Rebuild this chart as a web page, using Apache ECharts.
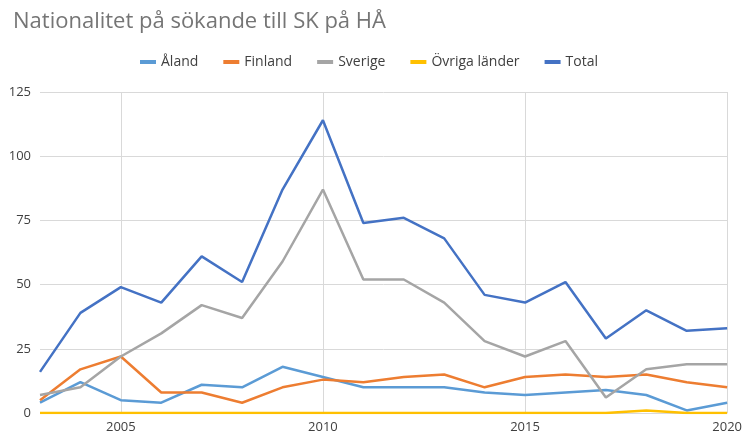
<!DOCTYPE html>
<html>
<head>
<meta charset="utf-8">
<script src="https://cdn.jsdelivr.net/npm/echarts@6/dist/echarts.min.js"></script>
<style>
  html, body { margin: 0; padding: 0; background: #fff; }
  #chart { width: 745px; height: 434px; }
</style>
</head>
<body>
<div id="chart"></div>
<script>
var years = ['2003','2004','2005','2006','2007','2008','2009','2010','2011','2012','2013','2014','2015','2016','2017','2018','2019','2020'];
var aland   = [4, 12, 5, 4, 11, 10, 18, 14, 10, 10, 10, 8, 7, 8, 9, 7, 1, 4];
var finland = [5, 17, 22, 8, 8, 4, 10, 13, 12, 14, 15, 10, 14, 15, 14, 15, 12, 10];
var sverige = [7, 10, 22, 31, 42, 37, 59, 87, 52, 52, 43, 28, 22, 28, 6, 17, 19, 19];
var ovriga  = [0, 0, 0, 0, 0, 0, 0, 0, 0, 0, 0, 0, 0, 0, 0, 1, 0, 0];
var total   = [16, 39, 49, 43, 61, 51, 87, 114, 74, 76, 68, 46, 43, 51, 29, 40, 32, 33];

var names = ['Åland', 'Finland', 'Sverige', 'Övriga länder', 'Total'];
var colors = ['#5B9BD5', '#ED7D31', '#A5A5A5', '#FFC000', '#4472C4'];
var values = [aland, finland, sverige, ovriga, total];

var font = '"Open Sans", "DejaVu Sans", sans-serif';
var fiveYears = function (idx, val) { return Number(val) % 5 === 0; };

var myChart = echarts.init(document.getElementById('chart'));

var series = names.map(function (n, i) {
    return {
        name: n,
        type: 'line',
        data: values[i],
        symbol: 'none',
        color: colors[i],
        lineStyle: { width: 2.5, color: colors[i] }
    };
});

var option = {
    animation: false,
    title: {
        text: 'Nationalitet på sökande till SK på HÅ',
        left: 8,
        top: 6,
        textStyle: { fontFamily: font, fontSize: 22, fontWeight: 'normal', color: '#757575' }
    },
    legend: {
        data: names,
        left: 135,
        top: 50,
        icon: 'rect',
        itemWidth: 16,
        itemHeight: 4,
        itemGap: 25,
        textStyle: { fontFamily: font, fontSize: 14, color: '#404040' }
    },
    grid: { left: 40, right: 15, top: 92, bottom: 21 },
    xAxis: {
        type: 'category',
        data: years,
        boundaryGap: false,
        axisLine: { show: false },
        axisTick: { show: false },
        axisLabel: { interval: fiveYears, fontFamily: font, fontSize: 13, color: '#404040', margin: 8 },
        splitLine: { show: true, interval: fiveYears, lineStyle: { color: '#d9d9d9', width: 1 } }
    },
    yAxis: {
        type: 'value',
        min: 0,
        max: 125,
        interval: 25,
        axisLine: { show: false },
        axisTick: { show: false },
        axisLabel: { fontFamily: font, fontSize: 13, color: '#404040', margin: 9 },
        splitLine: { lineStyle: { color: '#d9d9d9', width: 1 } }
    },
    series: series
};

myChart.setOption(option);
</script>
</body>
</html>
